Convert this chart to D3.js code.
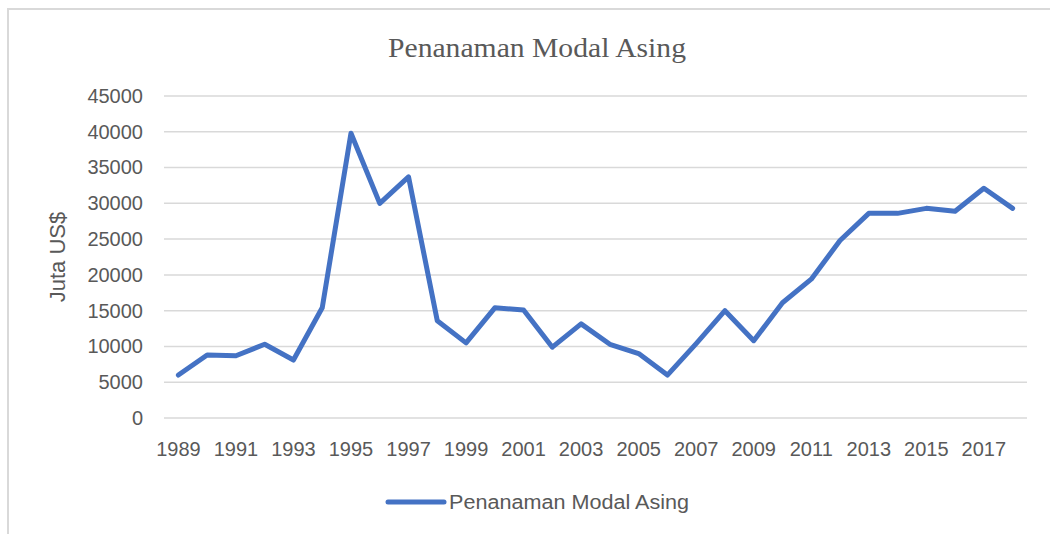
<!DOCTYPE html>
<html>
<head>
<meta charset="utf-8">
<script src="https://cdn.jsdelivr.net/npm/d3@7"></script>
<style>
  body { margin: 0; background: #fff; }
  svg { display: block; }
</style>
</head>
<body>
<div id="chart"></div>
<script>
// Data
const years = d3.range(1989, 2019);
const pmaValues = [
    6000, 8800, 8700, 10300, 8100, 15400, 39800, 30000, 33700, 13600,
    10500, 15400, 15100, 9900, 13150, 10300, 9000, 6000, 10400, 15000,
    10800, 16100, 19400, 24800, 28600, 28600, 29300, 28900, 32100, 29300
];
const yTicks = [0, 5000, 10000, 15000, 20000, 25000, 30000, 35000, 40000, 45000];
const xTickYears = years.filter((d, i) => i % 2 === 0);

const seriesName = "Penanaman Modal Asing";
const data = years.map((yr, i) => ({year: yr, value: pmaValues[i]}));

const W = 1050, H = 534;
const plot = {left: 164, right: 1027, top: 96, bottom: 418};
const textColor = "#595959";
const lineColor = "#4472C4";
const font = "'Liberation Sans', Arial, sans-serif";

const svg = d3.select("#chart")
    .append("svg")
    .attr("width", W)
    .attr("height", H);

// Chart frame (only top and left edges are visible in the crop)
svg.append("path")
    .attr("d", `M8,${H} V9 H${W}`)
    .attr("fill", "none")
    .attr("stroke", "#d9d9d9")
    .attr("stroke-width", 2);

// Scales
const x = d3.scaleBand()
    .domain(years)
    .range([plot.left, plot.right]);

const y = d3.scaleLinear()
    .domain([0, 45000])
    .range([plot.bottom, plot.top]);

// Gridlines
svg.append("g")
    .selectAll("line")
    .data(yTicks)
    .join("line")
    .attr("x1", plot.left)
    .attr("x2", plot.right)
    .attr("y1", d => y(d))
    .attr("y2", d => y(d))
    .attr("stroke", "#d9d9d9")
    .attr("stroke-width", 1.5);

// Y axis
const yAxis = svg.append("g")
    .attr("transform", `translate(${plot.left - 21},0)`)
    .call(d3.axisLeft(y).tickValues(yTicks).tickSize(0).tickPadding(0).tickFormat(d3.format("d")));
yAxis.select(".domain").remove();
yAxis.selectAll("text")
    .attr("fill", textColor)
    .style("font-family", font)
    .style("font-size", "20px");

// X axis
const xAxis = svg.append("g")
    .attr("transform", `translate(0,${plot.bottom})`)
    .call(d3.axisBottom(x).tickValues(xTickYears).tickSize(0).tickPadding(24));
xAxis.select(".domain").remove();
xAxis.selectAll("text")
    .attr("fill", textColor)
    .style("font-family", font)
    .style("font-size", "20px");

// Y axis label
svg.append("text")
    .attr("text-anchor", "middle")
    .attr("transform", `translate(65,${(plot.top + plot.bottom) / 2}) rotate(-90)`)
    .attr("fill", textColor)
    .style("font-family", font)
    .style("font-size", "22px")
    .text("Juta US$");

// Title
svg.append("text")
    .attr("text-anchor", "middle")
    .attr("x", 537)
    .attr("y", 57)
    .attr("fill", textColor)
    .attr("textLength", 298)
    .attr("lengthAdjust", "spacingAndGlyphs")
    .style("font-family", "'Liberation Serif', 'Times New Roman', serif")
    .style("font-size", "28px")
    .text(seriesName);

// Main line
const line = d3.line()
    .x(d => x(d.year) + x.bandwidth() / 2)
    .y(d => y(d.value));

svg.append("path")
    .datum(data)
    .attr("fill", "none")
    .attr("stroke", lineColor)
    .attr("stroke-width", 5)
    .attr("stroke-linejoin", "round")
    .attr("stroke-linecap", "round")
    .attr("d", line);

// Legend
const legend = svg.append("g").attr("transform", "translate(388,502)");
legend.append("line")
    .attr("x1", 0)
    .attr("x2", 56)
    .attr("stroke", lineColor)
    .attr("stroke-width", 5)
    .attr("stroke-linecap", "round");
legend.append("text")
    .attr("x", 61)
    .attr("y", 7)
    .attr("fill", textColor)
    .attr("textLength", 240)
    .attr("lengthAdjust", "spacingAndGlyphs")
    .style("font-family", font)
    .style("font-size", "20px")
    .text(seriesName);
</script>
</body>
</html>
